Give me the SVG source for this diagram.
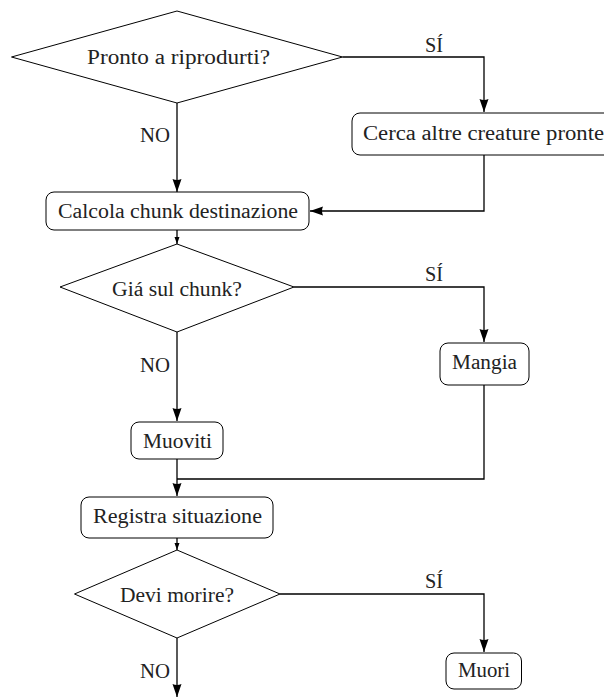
<svg xmlns="http://www.w3.org/2000/svg" width="604" height="697" viewBox="0 0 604 697">
<defs>
<style>
.node{fill:#fff;stroke:#000;stroke-width:1}
.t{font-family:"Liberation Serif","DejaVu Serif",serif;font-size:20px;fill:#222;text-anchor:middle}
.lbl{font-family:"Liberation Serif","DejaVu Serif",serif;font-size:20px;fill:#222}
.c{fill:none;stroke:#000;stroke-width:1.3}
</style>
<marker id="ah" markerUnits="userSpaceOnUse" markerWidth="14" markerHeight="10" refX="13" refY="4.5" orient="auto" viewBox="0 0 14 9">
<path d="M0,0 L13,4.5 L0,9 Q2,4.5 0,0 Z" fill="#000"/>
</marker>
<marker id="ahs" markerUnits="userSpaceOnUse" markerWidth="8" markerHeight="6" refX="7" refY="2.5" orient="auto" viewBox="0 0 8 5">
<path d="M0,0 L7,2.5 L0,5 Z" fill="#000"/>
</marker>
</defs>
<g id="connectors">
<path class="c" d="M342.5,57 H484 V112" marker-end="url(#ah)"/>
<path class="c" d="M177,103 V192" marker-end="url(#ah)"/>
<path class="c" d="M484,155 V211 H310" marker-end="url(#ah)"/>
<path class="c" d="M177,230 V244" marker-end="url(#ahs)"/>
<path class="c" d="M294,287 H484 V342" marker-end="url(#ah)"/>
<path class="c" d="M177,332 V421" marker-end="url(#ah)"/>
<path class="c" d="M177,459 V496" marker-end="url(#ah)"/>
<path class="c" d="M484,385 V479 H177"/>
<path class="c" d="M177,538 V550" marker-end="url(#ahs)"/>
<path class="c" d="M280,594 H484 V652" marker-end="url(#ah)"/>
<path class="c" d="M177,638 V697" marker-end="url(#ah)"/>
<text class="lbl" x="425" y="52" textLength="18" lengthAdjust="spacingAndGlyphs">SÍ</text>
<text class="lbl" x="140" y="141.5" textLength="30" lengthAdjust="spacingAndGlyphs">NO</text>
<text class="lbl" x="425" y="281" textLength="18" lengthAdjust="spacingAndGlyphs">SÍ</text>
<text class="lbl" x="140" y="372" textLength="30" lengthAdjust="spacingAndGlyphs">NO</text>
<text class="lbl" x="425" y="588" textLength="18" lengthAdjust="spacingAndGlyphs">SÍ</text>
<text class="lbl" x="140" y="678" textLength="30" lengthAdjust="spacingAndGlyphs">NO</text>
</g>
<g id="d1">
<polygon class="node" points="177,11 342.5,57 177,103 11.5,57"/>
<text class="t" x="178.5" y="64" textLength="183" lengthAdjust="spacingAndGlyphs">Pronto a riprodurti?</text>
</g>
<g id="cerca">
<rect class="node" x="352" y="113" width="264" height="42" rx="8"/>
<text class="t" x="483.5" y="140" textLength="241" lengthAdjust="spacingAndGlyphs">Cerca altre creature pronte</text>
</g>
<g id="calcola">
<rect class="node" x="46" y="192" width="263" height="38" rx="8"/>
<text class="t" x="178" y="218" textLength="240" lengthAdjust="spacingAndGlyphs">Calcola chunk destinazione</text>
</g>
<g id="d2">
<polygon class="node" points="177,244 294,287 177,332 60,287"/>
<text class="t" x="177" y="295.5" textLength="130" lengthAdjust="spacingAndGlyphs">Giá sul chunk?</text>
</g>
<g id="mangia">
<rect class="node" x="440" y="343" width="89" height="42" rx="8"/>
<text class="t" x="484.5" y="369" textLength="65" lengthAdjust="spacingAndGlyphs">Mangia</text>
</g>
<g id="muoviti">
<rect class="node" x="131" y="422" width="92" height="37" rx="8"/>
<text class="t" x="177.5" y="448" textLength="69" lengthAdjust="spacingAndGlyphs">Muoviti</text>
</g>
<g id="registra">
<rect class="node" x="81" y="497" width="192" height="41" rx="8"/>
<text class="t" x="177.5" y="523" textLength="169" lengthAdjust="spacingAndGlyphs">Registra situazione</text>
</g>
<g id="d3">
<polygon class="node" points="177,550 280,594 177,638 74.5,594"/>
<text class="t" x="177" y="602" textLength="114" lengthAdjust="spacingAndGlyphs">Devi morire?</text>
</g>
<g id="muori">
<rect class="node" x="446" y="653" width="75.5" height="36" rx="8"/>
<text class="t" x="484" y="677" textLength="52" lengthAdjust="spacingAndGlyphs">Muori</text>
</g>
</svg>
